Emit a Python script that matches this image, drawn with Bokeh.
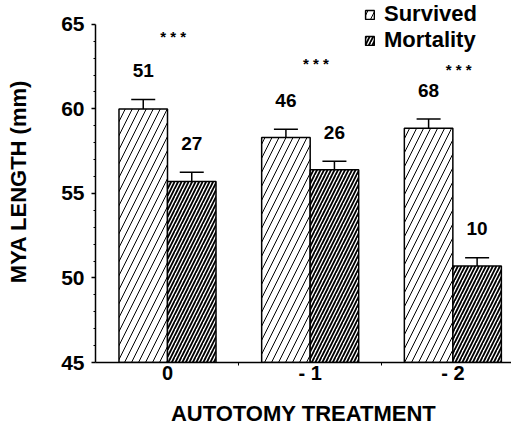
from bokeh.plotting import figure
from bokeh.models import (Range1d, FixedTicker, ColumnDataSource, Whisker, TeeHead,
                          LabelSet, Legend, LegendItem)
from bokeh.embed import file_html
from bokeh.resources import INLINE
from bokeh.core.properties import value

# ---- data ----
treatments = ["0", "- 1", "- 2"]
survived_mean = [60.0, 58.3, 58.85]
survived_se = [0.55, 0.5, 0.55]
mortality_mean = [55.7, 56.4, 50.7]
mortality_se = [0.55, 0.5, 0.5]
survived_n = [51, 46, 68]
mortality_n = [27, 26, 10]
significance = ["* * *", "* * *", "* * *"]
significance_level = [64.35, 62.75, 62.4]
y_ticks = [45, 50, 55, 60, 65]
y_minor = [v for v in range(45, 66) if v % 5 != 0]

FONT = "Liberation Sans"
half = 0.17
idx = list(range(len(treatments)))

src_s = ColumnDataSource(dict(
    x=[i - half for i in idx], top=survived_mean,
    up=[m + e for m, e in zip(survived_mean, survived_se)],
    n=[str(v) for v in survived_n]))
src_m = ColumnDataSource(dict(
    x=[i + half for i in idx], top=mortality_mean,
    up=[m + e for m, e in zip(mortality_mean, mortality_se)],
    n=[str(v) for v in mortality_n]))
src_sig = ColumnDataSource(dict(x=[i + 0.04 for i in idx], y=significance_level, t=significance))

p = figure(title=None, frame_width=416, frame_height=362,
           min_border_left=95, min_border_right=0, min_border_top=0, min_border_bottom=60,
           x_range=Range1d(-0.5046, 2.411), y_range=Range1d(45, 66.41),
           output_backend="svg", toolbar_location=None, tools="")
p.outline_line_color = None
p.xgrid.visible = False
p.ygrid.visible = False
p.background_fill_color = "white"
p.border_fill_color = "white"

r_s = p.vbar(x="x", top="top", bottom=45, width=0.34, source=src_s,
             fill_color="white", line_color="black", line_width=1.5,
             hatch_pattern="/", hatch_scale=14, hatch_weight=1, hatch_color="black")
r_m = p.vbar(x="x", top="top", bottom=45, width=0.34, source=src_m,
             fill_color="white", line_color="black", line_width=1.5,
             hatch_pattern="/", hatch_scale=7, hatch_weight=1.8, hatch_color="black")

for src in (src_s, src_m):
    w = Whisker(base="x", upper="up", lower="top", source=src, dimension="height",
                line_color="black", line_width=1.5,
                upper_head=TeeHead(size=24, line_color="black", line_width=1.5),
                lower_head=None)
    p.add_layout(w)
    lbl = LabelSet(x="x", y="up", text="n", source=src, y_offset=29,
                   text_align="center", text_baseline="middle",
                   text_font=value(FONT), text_font_size="19px", text_font_style="bold",
                   text_color="black")
    p.add_layout(lbl)

sig = LabelSet(x="x", y="y", text="t", source=src_sig, text_align="center",
               text_baseline="middle", y_offset=-1,
               text_font=value(FONT), text_font_size="15px",
               text_font_style="bold", text_color="black")
p.add_layout(sig)

# axes
yax = p.yaxis[0]
yax.ticker = FixedTicker(ticks=y_ticks, minor_ticks=y_minor)
yax.bounds = (45, 65)
yax.axis_label = "MYA LENGTH (mm)"
yax.axis_line_width = 1.5
yax.major_tick_out = 4
yax.major_tick_in = 0
yax.minor_tick_out = 2
yax.minor_tick_in = 0
yax.major_tick_line_width = 1.5
yax.major_label_standoff = 7
yax.axis_label_standoff = 27

xax = p.xaxis[0]
xax.ticker = FixedTicker(ticks=idx, minor_ticks=[0.5, 1.5])
xax.major_label_overrides = {i: t for i, t in zip(idx, treatments)}
xax.axis_label = "AUTOTOMY TREATMENT"
xax.axis_line_width = 1.5
xax.major_tick_out = 0
xax.major_tick_in = 0
xax.minor_tick_out = 3
xax.minor_tick_in = 0
xax.major_label_standoff = -4
xax.axis_label_standoff = 14

for ax in (xax, yax):
    ax.major_label_text_font = FONT
    ax.major_label_text_font_size = "21px"
    ax.major_label_text_font_style = "bold"
    ax.major_label_text_color = "black"
    ax.axis_label_text_font = FONT
    ax.axis_label_text_font_size = "22px"
    ax.axis_label_text_font_style = "bold"
    ax.axis_label_text_color = "black"
    ax.axis_line_color = "black"
    ax.major_tick_line_color = "black"
    ax.minor_tick_line_color = "black"
xax.major_label_text_font_size = "20px"

legend = Legend(items=[LegendItem(label="Survived", renderers=[r_s]),
                       LegendItem(label="Mortality", renderers=[r_m])],
                location=(269, 309), orientation="vertical",
                glyph_width=11, glyph_height=11, label_standoff=9, spacing=0,
                padding=0, margin=0, border_line_color=None,
                background_fill_alpha=0,
                label_text_font=FONT, label_text_font_size="22px",
                label_text_font_style="bold", label_text_color="black")
p.add_layout(legend)

open("out.html", "w").write(file_html(p, INLINE))
